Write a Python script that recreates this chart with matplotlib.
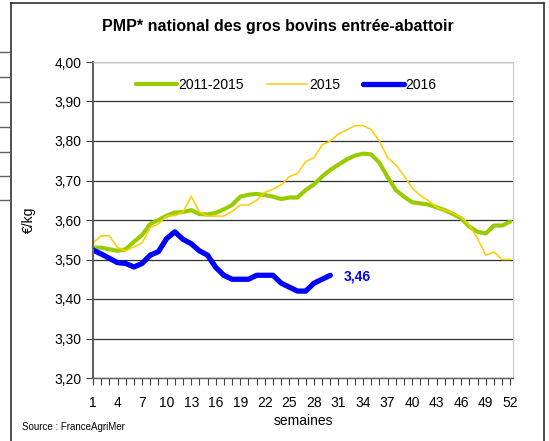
import matplotlib
matplotlib.use("Agg")
import matplotlib.pyplot as plt
from matplotlib.lines import Line2D

plt.rcParams['font.family'] = ['Liberation Sans', 'DejaVu Sans']

semaines = list(range(1, 53))

moy_2011_2015 = [3.53, 3.53, 3.526, 3.522, 3.526, 3.545, 3.562, 3.59, 3.60, 3.611,
                 3.619, 3.62, 3.625, 3.615, 3.614, 3.618, 3.627, 3.638, 3.659, 3.664,
                 3.666, 3.663, 3.659, 3.653, 3.657, 3.657, 3.676, 3.69, 3.71, 3.727,
                 3.74, 3.753, 3.763, 3.768, 3.766, 3.745, 3.709, 3.676, 3.659, 3.645,
                 3.642, 3.639, 3.632, 3.625, 3.615, 3.604, 3.583, 3.57, 3.566, 3.586,
                 3.586, 3.596]

prix_2015 = [3.542, 3.56, 3.56, 3.53, 3.522, 3.532, 3.542, 3.581, 3.59, 3.61,
             3.611, 3.62, 3.66, 3.62, 3.61, 3.61, 3.61, 3.622, 3.638, 3.638,
             3.65, 3.67, 3.678, 3.689, 3.71, 3.718, 3.748, 3.758, 3.79, 3.80,
             3.818, 3.828, 3.839, 3.839, 3.829, 3.80, 3.758, 3.74, 3.712, 3.681,
             3.662, 3.649, 3.632, 3.625, 3.617, 3.607, 3.587, 3.553, 3.511, 3.519,
             3.50, 3.50]

prix_2016 = [3.524, 3.514, 3.503, 3.492, 3.49, 3.481, 3.49, 3.511, 3.52, 3.553,
             3.57, 3.551, 3.54, 3.522, 3.511, 3.48, 3.46, 3.45, 3.45, 3.45,
             3.46, 3.46, 3.46, 3.44, 3.43, 3.42, 3.42, 3.44, 3.45, 3.46]

fig = plt.figure(figsize=(5.49, 4.41), dpi=100)
ax = fig.add_axes([93/549, 1-378/441, 420/549, 316/441])

ax.plot(semaines, moy_2011_2015, color='#99CC00', lw=3.0, label='2011-2015', solid_capstyle='round')
ax.plot(semaines, prix_2015, color='#FFCC00', lw=1.1, label='2015')
ax.plot(semaines[:len(prix_2016)], prix_2016, color='#0000FF', lw=3.8, label='2016', solid_capstyle='round')

ax.annotate('3,46', (30, prix_2016[-1]), xytext=(10, -1), textcoords='offset points',
            color='#0000FF', fontsize=10, fontweight='bold', va='center', ha='left')

ax.set_xlim(1, 52.33)
ax.set_ylim(3.2, 4.0)
ax.set_xticks(semaines, minor=True)
ax.set_xticks(semaines[::3])
ax.set_xticklabels([str(s) for s in semaines[::3]])
ax.tick_params(axis='x', which='both', direction='out', length=5, width=0.8, color='#404040')
ax.tick_params(axis='x', which='major', labelsize=10, pad=8)
ax.set_yticks([3.2 + i * 0.1 for i in range(9)])
ax.yaxis.set_major_formatter(matplotlib.ticker.FuncFormatter(lambda v, p: ('%.2f' % v).replace('.', ',')))
ax.tick_params(axis='y', length=5, direction='out', labelsize=10, color='#404040')
ax.grid(axis='y', color='#303030', lw=0.9)
ax.set_axisbelow(True)

for s in ['top', 'right']:
    ax.spines[s].set_color('#c8c8c8')
ax.spines['left'].set_color('#606060')
ax.spines['left'].set_linewidth(1.5)
ax.spines['bottom'].set_color('#606060')
ax.spines['bottom'].set_linewidth(1.0)

ax.set_xlabel('semaines', fontsize=10, labelpad=3)
ax.set_ylabel('€/kg', fontsize=10, labelpad=13)

ax.legend(loc='upper center', bbox_to_anchor=(0.46, 0.99), ncol=3, frameon=False,
          fontsize=10, handlelength=2.9, handletextpad=0.1, columnspacing=1.7)

fig.text(0.5 * (11 + 544) / 549, 1 - 27/441, 'PMP* national des gros bovins entrée-abattoir',
         ha='center', va='center', fontsize=11.5, fontweight='bold')
fig.text(22/549, 1 - 427/441, 'Source : FranceAgriMer', fontsize=7, va='center')

# cadre autour du graphique
fig.add_artist(Line2D([11/549, 11/549], [0, 1 - 3/441], color='#303030', lw=1.2))
fig.add_artist(Line2D([544/549, 544/549], [0, 1 - 3/441], color='#303030', lw=1.2))
fig.add_artist(Line2D([11/549, 544/549], [1 - 3/441, 1 - 3/441], color='#303030', lw=1.2))
for yy in [52, 77, 102, 127, 152, 176, 200]:
    fig.add_artist(Line2D([0, 10/549], [1 - yy/441, 1 - yy/441], color='#606060', lw=1.0))

fig.savefig('out.png', dpi=100)
